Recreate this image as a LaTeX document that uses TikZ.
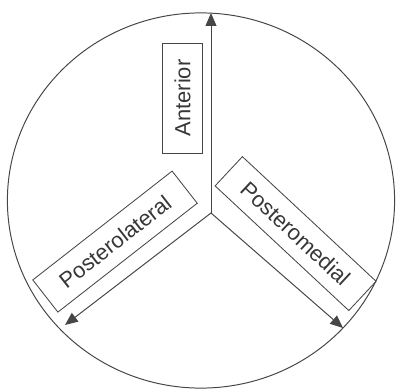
\documentclass[tikz,border=0pt]{standalone}
\usepackage{fontspec}
\setmainfont{Liberation Sans}
\usetikzlibrary{positioning,calc,arrows.meta}
\definecolor{linegray}{RGB}{70,70,70}
\definecolor{textgray}{RGB}{55,55,55}

\begin{document}
\begin{tikzpicture}[
    spoke/.style={draw=linegray, line width=0.7pt, -{Triangle[length=0.32cm, width=0.27cm]}},
    region/.style={rectangle, draw=linegray, line width=0.6pt, minimum height=1.02cm, inner sep=0pt, font=\fontsize{15.6}{18}\selectfont, text=textgray}
]
\useasboundingbox (0,0) rectangle (9.9,9.75);

% Outline of the plateau
\draw[linegray, line width=0.7pt] (5.025,4.7375) ellipse (4.84cm and 4.69cm);

% Centre and spoke ends
\coordinate (centre) at (5.275,4.425);
\coordinate (ant-tip) at (5.275,9.425);
\coordinate (pl-tip) at (1.625,1.625);
\coordinate (pm-tip) at (8.575,1.55);

\draw[spoke] (centre) -- (ant-tip);
\draw[spoke] (centre) -- (pl-tip);
\draw[spoke] (centre) -- (pm-tip);

% Labels
\node[region, minimum width=2.75cm, rotate=90] (anterior) at (4.5625,7.3) {Anterior};
\node[region, minimum width=4.42cm, rotate=38] (posterolateral) at (2.875,3.71) {Posterolateral};
\node[region, minimum width=4.57cm, minimum height=1.0cm, rotate=-43] (posteromedial) at (7.39,3.91) {Posteromedial};

\end{tikzpicture}
\end{document}
